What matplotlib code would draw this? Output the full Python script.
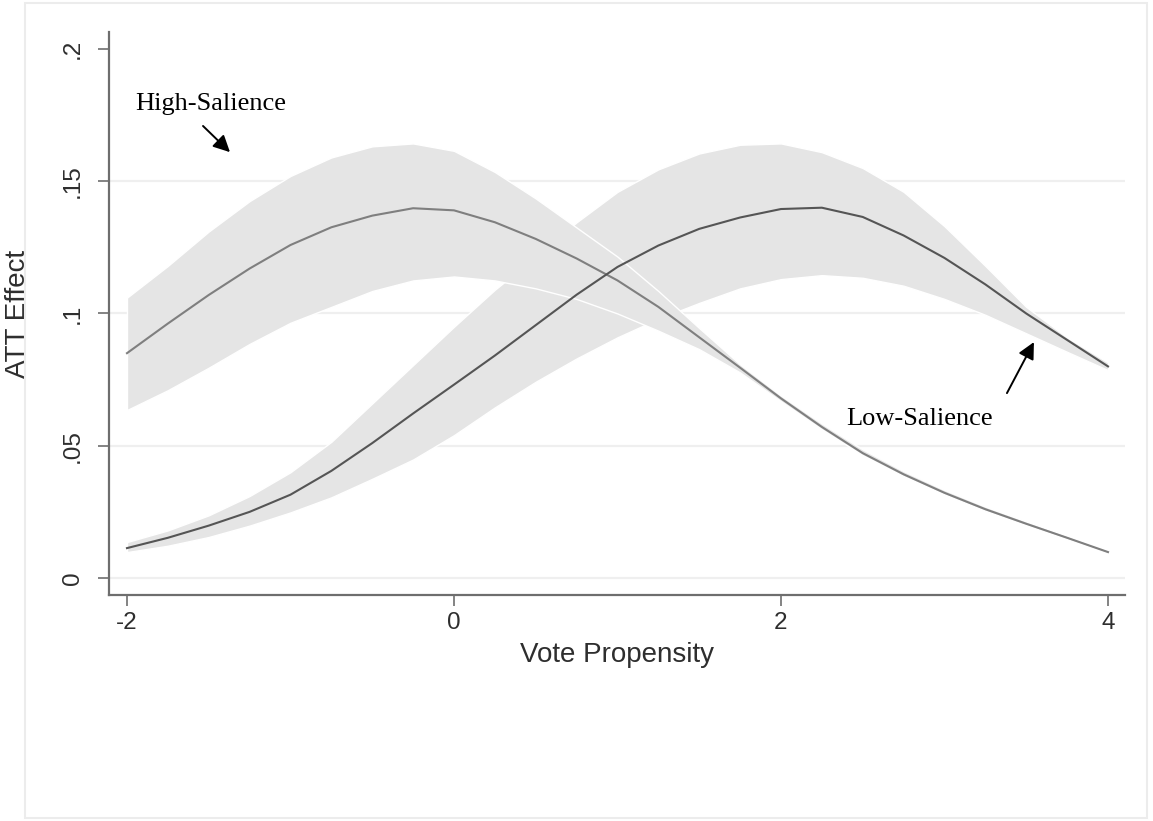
import matplotlib
matplotlib.use("Agg")
import matplotlib.pyplot as plt
from matplotlib.patches import Rectangle

# vote propensity grid
x = [-2.0, -1.75, -1.5, -1.25, -1.0, -0.75, -0.5, -0.25, 0.0, 0.25, 0.5, 0.75,
     1.0, 1.25, 1.5, 1.75, 2.0, 2.25, 2.5, 2.75, 3.0, 3.25, 3.5, 3.75, 4.0]

# high-salience ATT estimate and band
high_att = [0.085, 0.0962, 0.107, 0.117, 0.1259, 0.1326, 0.137, 0.1398, 0.139, 0.1345,
            0.1282, 0.1208, 0.1125, 0.1025, 0.091, 0.0795, 0.0679, 0.0571, 0.0472,
            0.0392, 0.0322, 0.026, 0.0205, 0.0152, 0.0098]
high_hi = [0.106, 0.118, 0.131, 0.1425, 0.152, 0.159, 0.1632, 0.1643, 0.1615, 0.1535,
           0.1435, 0.1325, 0.1215, 0.1085, 0.0945, 0.0808, 0.069, 0.0584, 0.0486,
           0.0404, 0.0333, 0.027, 0.0214, 0.0159, 0.0104]
high_lo = [0.0635, 0.071, 0.0795, 0.0885, 0.0965, 0.1025, 0.1085, 0.1125, 0.114, 0.1125,
           0.1095, 0.1055, 0.1, 0.0935, 0.0865, 0.0777, 0.0668, 0.0562, 0.0464,
           0.0385, 0.0316, 0.0254, 0.02, 0.0147, 0.0094]

# low-salience ATT estimate and band
low_att = [0.0113, 0.0152, 0.0198, 0.025, 0.0315, 0.0405, 0.051, 0.0622, 0.0731, 0.0841,
           0.0956, 0.1071, 0.1176, 0.1257, 0.132, 0.1363, 0.1395, 0.14, 0.1365,
           0.1295, 0.121, 0.111, 0.100, 0.090, 0.080]
low_hi = [0.0136, 0.018, 0.0237, 0.031, 0.040, 0.0515, 0.066, 0.0805, 0.095, 0.109,
          0.1215, 0.1345, 0.146, 0.1545, 0.1605, 0.1638, 0.1643, 0.161, 0.155,
          0.146, 0.133, 0.118, 0.1025, 0.091, 0.0815]
low_lo = [0.0098, 0.0122, 0.0155, 0.0198, 0.0248, 0.0305, 0.0375, 0.0448, 0.054, 0.0645,
          0.0742, 0.083, 0.091, 0.098, 0.104, 0.1095, 0.113, 0.1145, 0.1135,
          0.1105, 0.1055, 0.0995, 0.0925, 0.0855, 0.0786]

xticks = [-2, 0, 2, 4]
yticks = [0, 0.05, 0.1, 0.15, 0.2]
ytick_labels = ["0", ".05", ".1", ".15", ".2"]

band_col = "#e5e5e5"
axis_col = "#6e6e6e"
text_col = "#2e2e2e"

plt.rcParams["font.family"] = ["Liberation Sans", "DejaVu Sans"]

fig = plt.figure(figsize=(11.53, 8.21), dpi=100)
fig.patches.append(Rectangle((25 / 1153, 3 / 821), 1122 / 1153, 815 / 821,
                             transform=fig.transFigure, fill=False,
                             edgecolor="#ececec", lw=1.5))
ax = fig.add_axes([109 / 1153, 226 / 821, 1016 / 1153, 563 / 821])

for y in [0, 0.05, 0.1, 0.15]:
    ax.axhline(y, color="#efefef", lw=1.6, zorder=0)

ax.fill_between(x, low_lo, low_hi, facecolor=band_col, edgecolor="white", lw=1.0, zorder=1)
ax.fill_between(x, high_lo, high_hi, facecolor=band_col, edgecolor="white", lw=1.0, zorder=2)
ax.plot(x, high_att, color="#7f7f7f", lw=1.5, solid_joinstyle="round", zorder=3)
ax.plot(x, low_att, color="#555555", lw=1.5, solid_joinstyle="round", zorder=4)

ax.set_xlim(-2.110, 4.104)
ax.set_ylim(-0.00643, 0.20643)

for s in ["top", "right"]:
    ax.spines[s].set_visible(False)
for s in ["left", "bottom"]:
    ax.spines[s].set_color(axis_col)
    ax.spines[s].set_linewidth(1.6)

ax.set_xticks(xticks)
ax.set_xticklabels([str(t) for t in xticks])
ax.set_yticks(yticks)
ax.set_yticklabels(ytick_labels, rotation=90, va="center")
ax.tick_params(axis="both", length=8, width=1.2, color=axis_col,
               labelsize=17.5, labelcolor=text_col)
ax.tick_params(axis="x", pad=4)
ax.tick_params(axis="y", pad=10)

ax.set_xlabel("Vote Propensity", fontsize=20, color=text_col, labelpad=6)
ax.set_ylabel("ATT Effect", fontsize=20, color=text_col, labelpad=22)

serif = ["Liberation Serif", "DejaVu Serif"]
ax.text(-1.486, 0.1769, "High-Salience", family=serif, fontsize=19,
        ha="center", va="baseline", color="black")
ax.annotate("", xy=(-1.370, 0.161), xytext=(-1.535, 0.1709),
            arrowprops=dict(arrowstyle="-|>,head_length=1.0,head_width=0.5",
                            color="black", lw=1.4, shrinkA=0, shrinkB=0))
ax.text(2.847, 0.0578, "Low-Salience", family=serif, fontsize=19,
        ha="center", va="baseline", color="black")
ax.annotate("", xy=(3.547, 0.0892), xytext=(3.382, 0.0699),
            arrowprops=dict(arrowstyle="-|>,head_length=1.0,head_width=0.5",
                            color="black", lw=1.4, shrinkA=0, shrinkB=0))

fig.savefig("out.png", dpi=100, facecolor="white")
